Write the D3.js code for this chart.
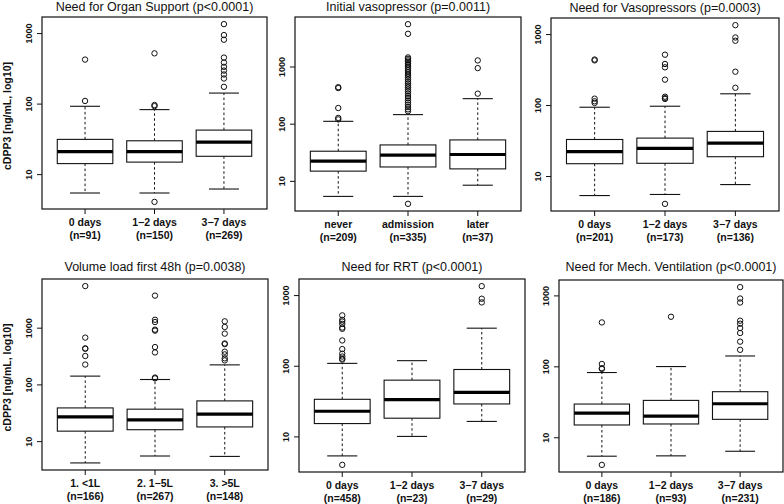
<!DOCTYPE html>
<html>
<head>
<meta charset="utf-8">
<script src="https://cdn.jsdelivr.net/npm/d3@7/dist/d3.min.js"></script>
<style>
  html, body { margin: 0; padding: 0; background: #fff; }
  svg { display: block; font-family: "Liberation Sans", Arial, Helvetica, sans-serif; }
</style>
</head>
<body>
<svg id="chart" width="784" height="504"></svg>
<script>
// ---------------- data ----------------
const titles = [
  "Need for Organ Support (p<0.0001)",
  "Initial vasopressor (p=0.0011)",
  "Need for Vasopressors (p=0.0003)",
  "Volume load first 48h (p=0.0038)",
  "Need for RRT (p<0.0001)",
  "Need for Mech. Ventilation (p<0.0001)"
];
const dayGroups = ["0 days", "1\u22122 days", "3\u22127 days"];
const vasoGroups = ["never", "admission", "later"];
const volumeGroups = ["1. <1L", "2. 1\u22125L", "3. >5L"];

const organN = [91, 150, 269];
const vasoInitN = [209, 335, 37];
const vasoNeedN = [201, 173, 136];
const volumeN = [166, 267, 148];
const rrtN = [458, 23, 29];
const ventN = [186, 93, 231];

// [lower whisker, Q1, median, Q3, upper whisker] in ng/mL
const organStats = [[5.4, 14.1, 20.8, 31.1, 91.6], [5.4, 14.8, 20.8, 29.7, 82.2], [6.15, 17.9, 28.5, 42.1, 141]];
const vasoInitStats = [[5.35, 14.8, 22.1, 33, 110], [5.35, 17.5, 28.1, 42.5, 144], [8.4, 16.2, 28.9, 52, 274]];
const vasoNeedStats = [[5.3, 14.9, 22.0, 32.7, 93.1], [5.49, 15.1, 24.5, 34.2, 96.2], [7.57, 18.7, 29.0, 42.5, 144]];
const volumeStats = [[4.13, 15.0, 26.8, 38.5, 140], [5.47, 15.9, 23.8, 36.6, 122], [5.38, 17.8, 29.9, 51.2, 221]];
const rrtStats = [[5.3, 15.2, 22.7, 33.5, 108], [10, 18.1, 33.1, 62.5, 118], [16.3, 28.8, 42.1, 88.5, 340]];
const ventStats = [[5.41, 14.9, 21.9, 29.4, 81.8], [5.47, 15.4, 19.9, 33.1, 99.3], [6.35, 17.9, 29.7, 43.9, 140]];

const organOut = [[421, 109], [516, 95.5, 92, 4.04], [1340, 937, 805, 449, 382, 332, 294, 259, 227, 173]];
const vasoInitOut = [
  [435, 420, 188, 126, 119],
  [5495, 3733, 1440, 1360, 1280, 1210, 1140, 1060, 990, 920, 860, 800, 740, 690, 640, 590, 540, 500, 460, 430, 395, 365, 335, 305, 280, 255, 235, 215, 195, 178, 165, 3.97],
  [1277, 937, 335]
];
const vasoNeedOut = [[438, 426, 123, 113, 107], [512, 379, 340, 228, 131, 125, 122, 4.05], [1336, 896, 805, 295, 175]];
const volumeOut = [[5412, 668, 432, 425, 317, 224], [3673, 1380, 1256, 922, 887, 455, 366, 132, 128], [1294, 1028, 785, 526, 513, 377, 338, 288, 265]];
const rrtOut = [[516, 446, 422, 391, 347, 333, 228, 172, 148, 135, 126, 122, 3.96], [], [1337, 887, 787]];
const ventOut = [[416, 108, 94, 92, 4.08], [500], [1309, 904, 794, 440, 399, 347, 295, 223, 171]];

const yTicks = [10, 100, 1000];
const yLabel = "cDPP3 [ng/mL, log10]";

// ---------------- layout ----------------
const frames = [
  { x0: 42,  x1: 267, y0: 17,  y1: 209, titleY: 11,  ylab: true },
  { x0: 295, x1: 521, y0: 17,  y1: 211, titleY: 11,  ylab: false },
  { x0: 551, x1: 779, y0: 18,  y1: 211, titleY: 12,  ylab: false },
  { x0: 42,  x1: 268, y0: 279, y1: 470, titleY: 271, ylab: true },
  { x0: 299, x1: 525, y0: 279, y1: 472, titleY: 271, ylab: false },
  { x0: 559, x1: 783, y0: 280, y1: 472, titleY: 271, ylab: false }
];

const panels = [
  { groups: dayGroups,    n: organN,    stats: organStats,    out: organOut },
  { groups: vasoGroups,   n: vasoInitN, stats: vasoInitStats, out: vasoInitOut },
  { groups: dayGroups,    n: vasoNeedN, stats: vasoNeedStats, out: vasoNeedOut },
  { groups: volumeGroups, n: volumeN,   stats: volumeStats,   out: volumeOut },
  { groups: dayGroups,    n: rrtN,      stats: rrtStats,      out: rrtOut },
  { groups: dayGroups,    n: ventN,     stats: ventStats,     out: ventOut }
];

const svg = d3.select("#chart");
const ink = "#111";

panels.forEach((p, i) => {
  const f = frames[i];
  // y domain as R would: data range in log space, extended by 4%
  const all = p.stats.flat().concat(p.out.flat());
  const lo = Math.log10(d3.min(all)), hi = Math.log10(d3.max(all));
  const ext = (hi - lo) * 0.04;
  const y = d3.scaleLog().domain([Math.pow(10, lo - ext), Math.pow(10, hi + ext)]).range([f.y1, f.y0]);
  const x = d3.scaleBand().domain(p.groups).range([f.x0, f.x1]).paddingInner(0.2).paddingOuter(0.22);
  const bw = x.bandwidth();

  const g = svg.append("g");

  // boxes
  p.groups.forEach((grp, j) => {
    const s = p.stats[j];
    const cx = x(grp) + bw / 2;
    const bg = g.append("g");
    // whiskers
    bg.append("line").attr("x1", cx).attr("x2", cx).attr("y1", y(s[3])).attr("y2", y(s[4]))
      .attr("stroke", ink).attr("stroke-width", 1).attr("stroke-dasharray", "2.5,2.5");
    bg.append("line").attr("x1", cx).attr("x2", cx).attr("y1", y(s[1])).attr("y2", y(s[0]))
      .attr("stroke", ink).attr("stroke-width", 1).attr("stroke-dasharray", "2.5,2.5");
    // caps
    [s[0], s[4]].forEach(v => {
      bg.append("line").attr("x1", cx - bw * 0.27).attr("x2", cx + bw * 0.27).attr("y1", y(v)).attr("y2", y(v))
        .attr("stroke", ink).attr("stroke-width", 1.1);
    });
    // box
    bg.append("rect").attr("x", x(grp)).attr("width", bw)
      .attr("y", y(s[3])).attr("height", y(s[1]) - y(s[3]))
      .attr("fill", "#fff").attr("stroke", ink).attr("stroke-width", 1.1);
    // median
    bg.append("line").attr("x1", x(grp)).attr("x2", x(grp) + bw).attr("y1", y(s[2])).attr("y2", y(s[2]))
      .attr("stroke", "#000").attr("stroke-width", 3.2);
    // outliers
    bg.selectAll("circle.o").data(p.out[j]).enter().append("circle")
      .attr("class", "o").attr("cx", cx).attr("cy", d => y(d)).attr("r", 2.7)
      .attr("fill", "none").attr("stroke", ink).attr("stroke-width", 1);
  });

  // frame
  g.append("rect").attr("x", f.x0).attr("y", f.y0).attr("width", f.x1 - f.x0).attr("height", f.y1 - f.y0)
    .attr("fill", "none").attr("stroke", ink).attr("stroke-width", 1.2);

  // y axis
  const ya = g.append("g").attr("transform", `translate(${f.x0},0)`)
    .call(d3.axisLeft(y).tickValues(yTicks).tickFormat(d3.format("d")).tickSize(5));
  ya.select(".domain").remove();
  ya.selectAll("line").attr("stroke", ink);
  ya.selectAll("text")
    .attr("transform", "rotate(-90)").attr("x", 0).attr("y", -10).attr("dy", 0)
    .attr("text-anchor", "middle").attr("fill", ink)
    .style("font-size", "9px").style("font-weight", "bold")
    .style("font-family", "'Liberation Sans', Arial, sans-serif");

  // x axis
  const xa = g.append("g").attr("transform", `translate(0,${f.y1})`)
    .call(d3.axisBottom(x).tickSize(5).tickFormat(""));
  xa.select(".domain").remove();
  xa.selectAll("line").attr("stroke", ink);
  xa.selectAll(".tick text").remove();
  xa.selectAll(".tick").each(function (d, j) {
    const t = d3.select(this).append("text").attr("text-anchor", "middle").attr("fill", ink)
      .style("font-size", "10.5px").style("font-weight", "bold")
      .style("font-family", "'Liberation Sans', Arial, sans-serif");
    t.append("tspan").attr("x", 0).attr("y", 16.5).text(d);
    t.append("tspan").attr("x", 0).attr("y", 30).text(`(n=${p.n[j]})`);
  });

  // title
  g.append("text").attr("x", (f.x0 + f.x1) / 2).attr("y", f.titleY).attr("text-anchor", "middle")
    .attr("fill", ink).style("font-size", "12.5px").text(titles[i]);

  // y label
  if (f.ylab) {
    g.append("text")
      .attr("transform", `translate(11,${(f.y0 + f.y1) / 2 + 3}) rotate(-90)`)
      .attr("text-anchor", "middle").attr("fill", ink)
      .style("font-size", "10.5px").style("font-weight", "bold")
      .text(yLabel);
  }
});
</script>
</body>
</html>
